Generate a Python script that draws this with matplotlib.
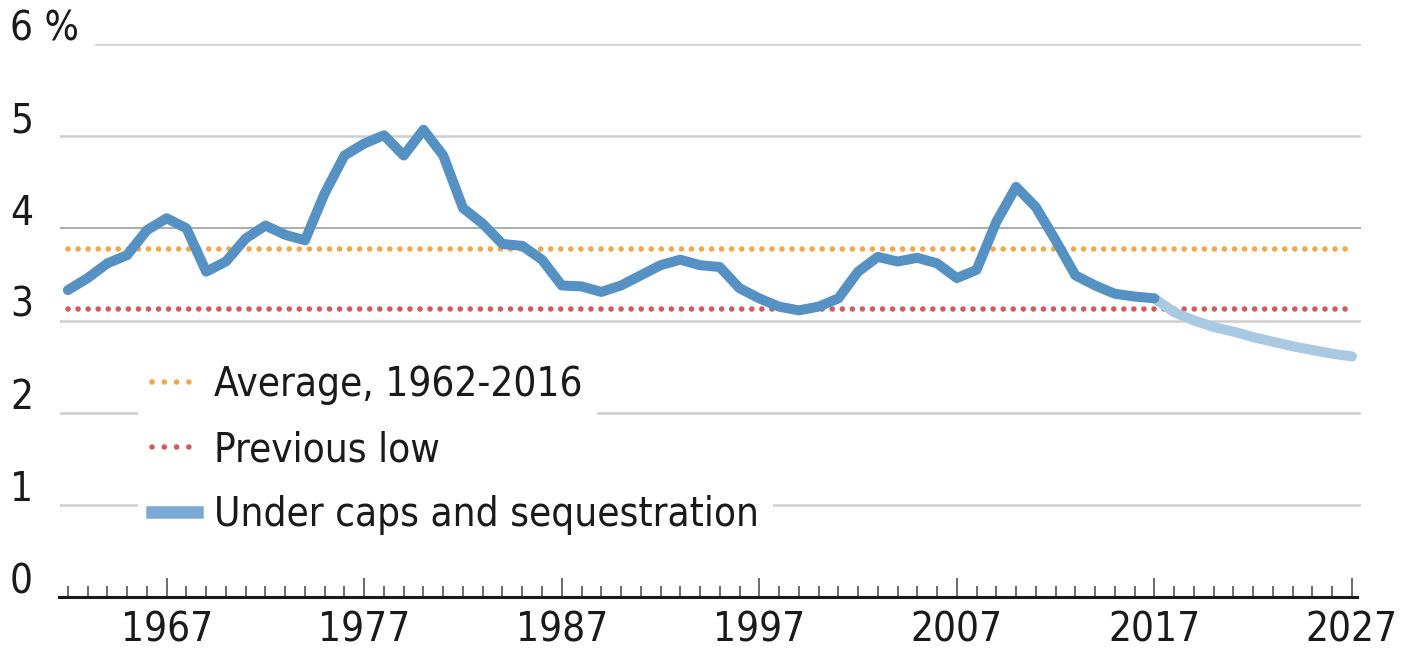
import os
import matplotlib
matplotlib.use("Agg")
import matplotlib.pyplot as plt
from matplotlib import font_manager
from matplotlib.lines import Line2D
from matplotlib.ticker import FixedLocator
import matplotlib.transforms as mtransforms

# pick a narrow font if available
names = {f.name for f in font_manager.fontManager.ttflist}
files = [os.path.basename(f.fname) for f in font_manager.fontManager.ttflist]
if 'Liberation Sans Narrow' in names:
    plt.rcParams['font.family'] = ['Liberation Sans Narrow', 'DejaVu Sans']
    fs = 31
elif any('DejaVuSansCondensed' in f for f in files):
    plt.rcParams['font.family'] = ['DejaVu Sans']
    plt.rcParams['font.stretch'] = 'condensed'
    fs = 29
else:
    plt.rcParams['font.family'] = ['DejaVu Sans']
    fs = 26

# data
hist_years = list(range(1962, 2018))
hist_values = [3.33, 3.46, 3.62, 3.71, 3.98, 4.11, 4.00, 3.53, 3.64, 3.89,
               4.03, 3.93, 3.87, 4.38, 4.79, 4.92, 5.01, 4.79, 5.07, 4.79,
               4.22, 4.05, 3.83, 3.81, 3.66, 3.38, 3.37, 3.31, 3.38, 3.49,
               3.60, 3.66, 3.60, 3.58, 3.35, 3.24, 3.15, 3.11, 3.15, 3.24,
               3.53, 3.69, 3.64, 3.68, 3.62, 3.46, 3.55, 4.07, 4.45, 4.23,
               3.87, 3.49, 3.38, 3.29, 3.26, 3.24]
proj_years = list(range(2017, 2028))
proj_values = [3.24, 3.09, 3.00, 2.93, 2.88, 2.82, 2.77, 2.72, 2.68, 2.64, 2.61]
average = 3.78
previous_low = 3.12
ref_span = [1962, 2027]
y_labels = ['0', '1', '2', '3', '4', '5', '6 %']
x_major = [1967, 1977, 1987, 1997, 2007, 2017, 2027]

orange = '#f2a84a'
red = '#d05a5e'
blue = '#5591c2'
light_blue = '#a9c8e1'

W, H = 1404, 654
fig = plt.figure(figsize=(W / 100, H / 100), dpi=100)
ax = fig.add_axes([60 / W, (H - 597) / H, (1361 - 60) / W, (597 - 44) / H])
ax.set_xlim(1961.6, 2027.46)
ax.set_ylim(0, 6)

# gridlines
for v in range(1, 7):
    start = (96 - 60) / (1361 - 60) if v == 6 else 0
    if v == 4:
        ax.axhline(v, xmin=start, color='#a6a6a6', lw=1.3, zorder=1)
    else:
        ax.axhline(v, xmin=start, color='#cfcfcf', lw=1.8, zorder=1)

dot = dict(lw=4, linestyle=(0, (0.01, 1.8)), dash_capstyle='round', zorder=2)
ax.plot(ref_span, [average, average], color=orange, **dot)
ax.plot(ref_span, [previous_low, previous_low], color=red, **dot)

ax.plot(proj_years, proj_values, color=light_blue, lw=7.2,
        solid_capstyle='round', solid_joinstyle='round', zorder=3)
ax.plot(hist_years, hist_values, color=blue, lw=7.2,
        solid_capstyle='round', solid_joinstyle='round', zorder=4)

# axes styling
for s in ['left', 'right', 'top']:
    ax.spines[s].set_visible(False)
ax.spines['bottom'].set_color('#1a1a1a')
ax.spines['bottom'].set_linewidth(2.2)
ax.spines['bottom'].set_bounds(1961.55, 2027.25)
ax.set_yticks([])
ax.xaxis.set_major_locator(FixedLocator(x_major))
ax.xaxis.set_minor_locator(FixedLocator(list(range(1962, 2028))))
ax.set_xticklabels([str(y) for y in x_major])
ax.tick_params(axis='x', which='major', direction='in', length=14, width=1.1,
               color='#444444', labelsize=fs, pad=10, labelcolor='#1a1a1a')
ax.tick_params(axis='x', which='minor', direction='in', length=8, width=1.1,
               color='#444444')

trans = mtransforms.blended_transform_factory(ax.transAxes, ax.transData)
for i, lab in enumerate(y_labels):
    ax.text((10 - 60) / (1361 - 60), i + 0.04, lab, transform=trans,
            ha='left', va='baseline', fontsize=fs, color='#1a1a1a')

# legend: one white box per entry
entries = [
    (Line2D([], [], color=orange, lw=4, linestyle=(0, (0.01, 2.2)),
            dash_capstyle='round'), 'Average, 1962-2016', 385),
    (Line2D([], [], color=red, lw=4, linestyle=(0, (0.01, 2.2)),
            dash_capstyle='round'), 'Previous low', 450),
    (Line2D([], [], color='#7aaad4', lw=9), 'Under caps and sequestration', 515),
]
for handle, label, yc in entries:
    leg = ax.legend(handles=[handle], labels=[label], loc='center left',
                    bbox_to_anchor=(138 / W, 1 - yc / H),
                    bbox_transform=fig.transFigure, borderaxespad=0,
                    frameon=True, facecolor='white', edgecolor='none',
                    framealpha=1, fancybox=False, borderpad=0.35,
                    handlelength=45 / (fs * 1.39), handletextpad=17 / (fs * 1.39),
                    fontsize=fs)
    for t in leg.get_texts():
        t.set_color('#1a1a1a')
    leg.set_zorder(5)
    ax.add_artist(leg)

fig.savefig('out.png', dpi=100, facecolor='white')
